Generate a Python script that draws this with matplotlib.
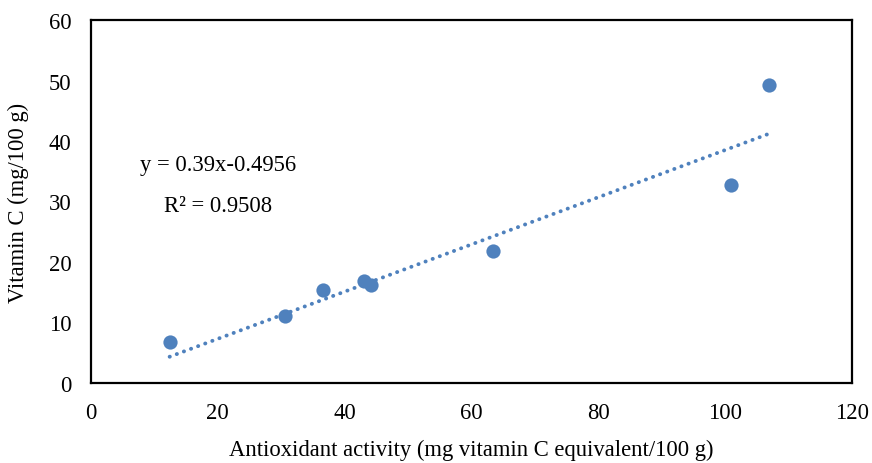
import matplotlib
matplotlib.use("Agg")
import matplotlib.pyplot as plt
import numpy as np

plt.rcParams['font.family'] = ['Liberation Serif', 'DejaVu Serif']

antioxidant = [12.4, 30.6, 36.6, 43.0, 44.1, 63.4, 100.9, 106.9]
vitamin_c = [6.8, 11.1, 15.3, 16.9, 16.2, 21.9, 32.7, 49.2]
slope, intercept = 0.39, -0.4956
eq_text = "y = 0.39x-0.4956"
r2_text = "R² = 0.9508"
x_ticks = [0, 20, 40, 60, 80, 100, 120]
y_ticks = [0, 10, 20, 30, 40, 50, 60]
color = '#4F81BD'
fs = 16.3

fig = plt.figure(figsize=(8.72, 4.64), dpi=100)
ax = fig.add_axes([91/872, 1-384/464, (852-91)/872, (384-21)/464])

xs = np.array([min(antioxidant), max(antioxidant)])
ax.plot(xs, slope*xs + intercept, color=color, lw=2.8,
        linestyle=(0, (0.05, 1.9)), dash_capstyle='round', zorder=2)
ax.scatter(antioxidant, vitamin_c, s=105, color=color, zorder=3, linewidths=0)

ax.set_xlim(0, 120)
ax.set_ylim(0, 60)
ax.set_xticks(x_ticks)
ax.set_yticks(y_ticks)
ax.tick_params(length=0, labelsize=fs)
ax.tick_params(axis='y', pad=14)
ax.tick_params(axis='x', pad=14)
for s in ax.spines.values():
    s.set_linewidth(1.6)
    s.set_color('black')

ax.set_xlabel("Antioxidant activity (mg vitamin C equivalent/100 g)", fontsize=fs, labelpad=11)
ax.set_ylabel("Vitamin C (mg/100 g)", fontsize=fs, labelpad=14)

fig.text(218/872, 1-165/464, eq_text, fontsize=fs, ha='center', va='center')
fig.text(218/872, 1-206/464, r2_text, fontsize=fs, ha='center', va='center')

fig.savefig("out.png", dpi=100)
